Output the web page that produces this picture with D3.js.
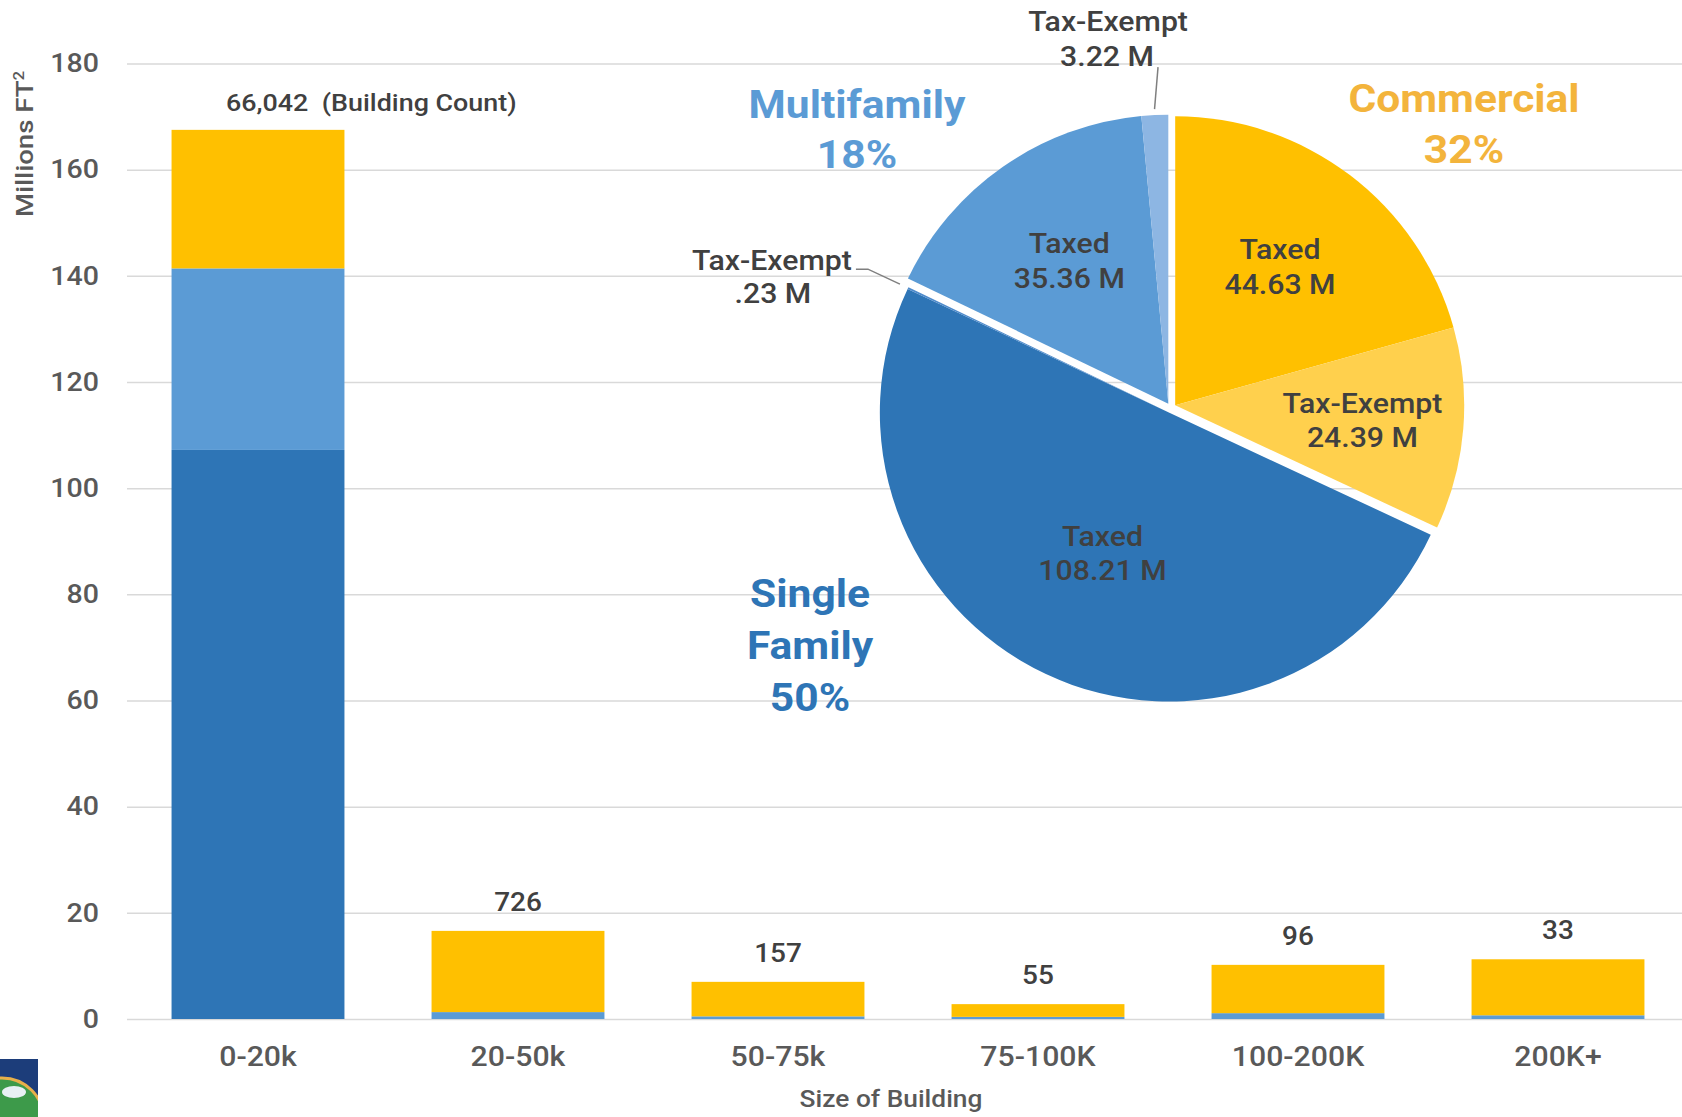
<!DOCTYPE html>
<html>
<head>
<meta charset="utf-8">
<script src="https://cdn.jsdelivr.net/npm/d3@7"></script>
<style>
  body { margin: 0; background: #fff; }
  text { font-family: Roboto, "Noto Sans", sans-serif; }
</style>
</head>
<body>
<div id="chart"></div>
<script>

// bar chart data: floor area by building size (millions ft2)
var sizeCategories = ["0-20k", "20-50k", "50-75k", "75-100K", "100-200K", "200K+"];
var singleFamilyArea = [107.2, 0, 0, 0, 0, 0];
var multifamilyArea = [34.2, 1.3, 0.5, 0.4, 1.1, 0.7];
var commercialArea = [26.1, 15.3, 6.5, 2.4, 9.1, 10.55];
var buildingCounts = ["66,042", "726", "157", "55", "96", "33"];
var yTicks = [0, 20, 40, 60, 80, 100, 120, 140, 160, 180];

// pie data: total area by type and tax status (millions ft2)
var pieGroups = ["Commercial", "Single Family", "Multifamily"];
var groupShares = ["32%", "50%", "18%"];
var pieNames = ["Taxed", "Tax-Exempt", "Taxed", "Tax-Exempt", "Taxed", "Tax-Exempt"];
var pieValues = [44.63, 24.39, 108.21, 0.23, 35.36, 3.22];
var pieValueText = ["44.63 M", "24.39 M", "108.21 M", ".23 M", "35.36 M", "3.22 M"];
var pieGroupIndex = [0, 0, 1, 1, 2, 2];

var width = 1682, height = 1117;
var SX = 1.12; // text in the source is a little wide

var colors = {sf: "#2e75b6", mf: "#5b9bd5", com: "#ffc000"};
var sliceColors = ["#ffc000", "#ffd04d", "#2e75b6", "#4f8bcb", "#5b9bd5", "#8db6e3"];
var groupColors = ["#f3b43c", "#2e75b6", "#5b9bd5"];

var svg = d3.select("#chart").append("svg")
    .attr("width", width)
    .attr("height", height);

svg.append("rect").attr("width", width).attr("height", height).attr("fill", "#fff");

// helper for stretched text
function addText(parent, x, y, str, size, weight, fill, anchor) {
  return parent.append("text")
      .attr("transform", "translate(" + x + "," + y + ") scale(" + SX + ",1)")
      .attr("text-anchor", anchor || "middle")
      .style("font-size", size + "px")
      .style("font-weight", weight)
      .attr("fill", fill)
      .text(str);
}

// scales
var x = d3.scaleBand()
    .domain(sizeCategories)
    .range([128, 1688])
    .paddingInner(0.335)
    .paddingOuter(0.1675);

var y = d3.scaleLinear()
    .domain([0, 180])
    .range([1019, 63.5]);

// gridlines + y axis
var yAxis = svg.append("g")
    .attr("transform", "translate(127,0)")
    .call(d3.axisLeft(y).tickValues(yTicks).tickSize(-1555).tickPadding(25));
yAxis.select(".domain").remove();
yAxis.selectAll(".tick line").attr("stroke", "#d9d9d9").attr("stroke-width", 1.5);
yAxis.selectAll(".tick text")
    .attr("transform", "scale(" + SX + ",1)")
    .style("font-size", "25.5px")
    .style("font-weight", 500)
    .attr("fill", "#595959");

// x axis
var xAxis = svg.append("g")
    .attr("transform", "translate(0,1019)")
    .call(d3.axisBottom(x).tickSize(0).tickPadding(28));
xAxis.select(".domain").remove();
xAxis.selectAll(".tick text")
    .attr("transform", "scale(" + SX + ",1)")
    .style("font-size", "27px")
    .style("font-weight", 500)
    .attr("fill", "#595959");

// stacked bars
var rows = sizeCategories.map(function(c, i) {
  return {cat: c, sf: singleFamilyArea[i], mf: multifamilyArea[i], com: commercialArea[i]};
});
var stack = d3.stack().keys(["sf", "mf", "com"]);
var layers = stack(rows);

svg.append("g").selectAll("g")
    .data(layers)
  .enter().append("g")
    .attr("fill", function(d) { return colors[d.key]; })
  .selectAll("rect")
    .data(function(d) { return d; })
  .enter().append("rect")
    .attr("x", function(d) { return x(d.data.cat); })
    .attr("y", function(d) { return y(d[1]); })
    .attr("width", x.bandwidth())
    .attr("height", function(d) { return y(d[0]) - y(d[1]); });

// building counts above bars
rows.forEach(function(r, i) {
  var top = y(r.sf + r.mf + r.com) - 20;
  var cx = x(r.cat) + x.bandwidth() / 2;
  if (i === 0) {
    var t = addText(svg, cx - 32, top + 1, buildingCounts[i], 24, 500, "#404040", "start");
    t.append("tspan").attr("dx", 12).text("(Building Count)");
  } else {
    addText(svg, cx, top, buildingCounts[i], 25, 500, "#404040");
  }
});

// axis titles
svg.append("text")
    .attr("transform", "translate(33,144) rotate(-90) scale(1.2,1)")
    .attr("text-anchor", "middle")
    .style("font-size", "23px")
    .style("font-weight", 500)
    .attr("fill", "#595959")
    .text("Millions FT")
  .append("tspan")
    .attr("dy", -9)
    .style("font-size", "14px")
    .text("2");

addText(svg, 891, 1107, "Size of Building", 23.5, 500, "#595959");

// pie
var pcx = 1171, pcy = 408, radius = 289, explode = 5;

var slices = pieValues.map(function(v, i) {
  return {name: pieNames[i], value: v, label: pieValueText[i], group: pieGroupIndex[i], color: sliceColors[i]};
});

var pie = d3.pie().sort(null).value(function(d) { return d.value; });
var arcs = pie(slices);

// offset each group along its bisector
var groupOffset = pieGroups.map(function(g, gi) {
  var own = arcs.filter(function(a) { return a.data.group === gi; });
  var mid = (d3.min(own, function(a) { return a.startAngle; }) + d3.max(own, function(a) { return a.endAngle; })) / 2;
  return [Math.sin(mid) * explode, -Math.cos(mid) * explode];
});

var arc = d3.arc().innerRadius(0).outerRadius(radius);

svg.append("g").selectAll("path")
    .data(arcs)
  .enter().append("path")
    .attr("transform", function(d) {
      var o = groupOffset[d.data.group];
      return "translate(" + (pcx + o[0]) + "," + (pcy + o[1]) + ")";
    })
    .attr("d", arc)
    .attr("fill", function(d) { return d.data.color; });

// slice labels
var labelFactor = [0.6, 0.65, 0.54, null, 0.6, null];
arcs.forEach(function(a, i) {
  var o = groupOffset[a.data.group];
  var mid = (a.startAngle + a.endAngle) / 2;
  var ox = pcx + o[0], oy = pcy + o[1];
  if (labelFactor[i] !== null) {
    var lr = radius * labelFactor[i];
    var lx = ox + Math.sin(mid) * lr, ly = oy - Math.cos(mid) * lr;
    addText(svg, lx, ly - 8, a.data.name, 27, 500, "#404040");
    addText(svg, lx, ly + 26.5, a.data.label, 27, 500, "#404040");
  }
});

// small slices with leader lines
var mfSmall = arcs[5], sfSmall = arcs[3];
(function() {
  var o = groupOffset[2];
  var mid = (mfSmall.startAngle + mfSmall.endAngle) / 2;
  var p0 = [pcx + o[0] + Math.sin(mid) * (radius + 6), pcy + o[1] - Math.cos(mid) * (radius + 6)];
  var p1 = [p0[0] + 3.5, p0[1] - 42];
  svg.append("path")
      .attr("d", "M" + p0 + "L" + p1)
      .attr("stroke", "#7f7f7f").attr("stroke-width", 1.5).attr("fill", "none");
  addText(svg, p1[0] - 50, p1[1] - 36, mfSmall.data.name, 27, 500, "#404040");
  addText(svg, p1[0] - 51, p1[1] - 1.5, mfSmall.data.label, 27, 500, "#404040");
})();

(function() {
  var o = groupOffset[1];
  var mid = (sfSmall.startAngle + sfSmall.endAngle) / 2;
  var p0 = [pcx + o[0] + Math.sin(mid) * (radius + 9), pcy + o[1] - Math.cos(mid) * (radius + 9)];
  var p1 = [p0[0] - 32, p0[1] - 15];
  var p2 = [p1[0] - 12, p1[1]];
  svg.append("path")
      .attr("d", "M" + p0 + "L" + p1 + "L" + p2)
      .attr("stroke", "#7f7f7f").attr("stroke-width", 1.5).attr("fill", "none");
  addText(svg, p2[0] - 84, p2[1] + 0.5, sfSmall.data.name, 27, 500, "#404040");
  addText(svg, p2[0] - 83, p2[1] + 34, sfSmall.data.label, 27, 500, "#404040");
})();

// group titles
addText(svg, 1464, 112, pieGroups[0], 38, 700, groupColors[0]);
addText(svg, 1464, 163, groupShares[0], 38, 700, groupColors[0]);

addText(svg, 857, 118, pieGroups[2], 38, 700, groupColors[2]);
addText(svg, 857, 168, groupShares[2], 38, 700, groupColors[2]);

var sfWords = pieGroups[1].split(" ");
addText(svg, 810, 607, sfWords[0], 38, 700, groupColors[1]);
addText(svg, 810, 659, sfWords[1], 38, 700, groupColors[1]);
addText(svg, 810, 711, groupShares[1], 38, 700, groupColors[1]);

// logo corner
svg.append("clipPath").attr("id", "logoClip")
  .append("rect").attr("x", 0).attr("y", 1059).attr("width", 38).attr("height", 58);
var logo = svg.append("g").attr("clip-path", "url(#logoClip)");
logo.append("rect").attr("x", 0).attr("y", 1059).attr("width", 38).attr("height", 58).attr("fill", "#1c3d7a");
logo.append("circle").attr("cx", 2).attr("cy", 1120).attr("r", 42)
    .attr("fill", "#3d9a4a").attr("stroke", "#e8b04a").attr("stroke-width", 3);
logo.append("ellipse").attr("cx", 14).attr("cy", 1092).attr("rx", 12).attr("ry", 6).attr("fill", "#e8f0f4");

</script>
</body>
</html>
